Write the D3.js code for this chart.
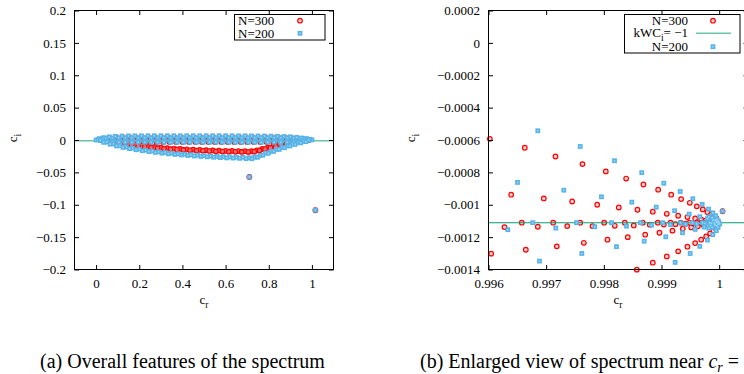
<!DOCTYPE html>
<html>
<head>
<meta charset="utf-8">
<script src="https://cdn.jsdelivr.net/npm/d3@7"></script>
<style>
  body { margin: 0; background: #fff; }
  svg { display: block; }
  text { font-family: "Liberation Serif", "Times New Roman", serif; fill: #000; }
</style>
</head>
<body>
<svg id="fig" width="744" height="374"></svg>
<script>
// ---------- Panel (a): full spectrum, eigenvalues [c_r, c_i] ----------
// N = 300 eigenvalues
const a300Lens1 = [[0.04,0.0018],[0.07,0.0024],[0.10,0.0028],[0.13,0.0028],[0.16,0.0028],[0.19,0.0028],[0.22,0.0028],[0.25,0.0028],[0.28,0.0028],[0.31,0.0028],[0.34,0.0028],[0.37,0.0028],[0.40,0.0028],[0.43,0.0028],[0.46,0.0028],[0.49,0.0028],[0.52,0.0028],[0.55,0.0028],[0.58,0.0028],[0.61,0.0028],[0.64,0.0028],[0.67,0.0028],[0.70,0.0028],[0.73,0.0028],[0.76,0.0028],[0.79,0.0028],[0.82,0.0028],[0.85,0.0028],[0.88,0.0028],[0.91,0.0024],[0.94,0.0018]];
const a300Lens2 = [[0.025,-0.0002],[0.055,-0.0002],[0.085,-0.0002],[0.115,-0.0002],[0.145,-0.0002],[0.175,-0.0002],[0.205,-0.0002],[0.235,-0.0002],[0.265,-0.0002],[0.295,-0.0002],[0.325,-0.0002],[0.355,-0.0002],[0.385,-0.0002],[0.415,-0.0002],[0.445,-0.0002],[0.475,-0.0002],[0.505,-0.0002],[0.535,-0.0002],[0.565,-0.0002],[0.595,-0.0002],[0.625,-0.0002],[0.655,-0.0002],[0.685,-0.0002],[0.715,-0.0002],[0.745,-0.0002],[0.775,-0.0002],[0.805,-0.0002],[0.835,-0.0002],[0.865,-0.0002],[0.895,-0.0002],[0.925,-0.0002],[0.955,-0.0002],[0.985,-0.0002]];
const a300Lens3 = [[0.07,-0.0032],[0.10,-0.0032],[0.13,-0.0032],[0.16,-0.0032],[0.19,-0.0032],[0.22,-0.0032],[0.25,-0.0032],[0.28,-0.0032],[0.31,-0.0032],[0.34,-0.0032],[0.37,-0.0032],[0.40,-0.0032],[0.43,-0.0032],[0.46,-0.0032],[0.49,-0.0032],[0.52,-0.0032],[0.55,-0.0032],[0.58,-0.0032],[0.61,-0.0032],[0.64,-0.0032],[0.67,-0.0032],[0.70,-0.0032],[0.73,-0.0032],[0.76,-0.0032],[0.79,-0.0032],[0.82,-0.0032],[0.85,-0.0032],[0.88,-0.0032],[0.91,-0.0032]];
const a300Lower1 = [[0.12,-0.0044],[0.15,-0.006],[0.18,-0.0074],[0.21,-0.0087],[0.24,-0.0098],[0.27,-0.0108],[0.30,-0.0117],[0.33,-0.0125],[0.36,-0.0132],[0.39,-0.0138],[0.42,-0.0144],[0.45,-0.0149],[0.48,-0.0153],[0.51,-0.0157],[0.54,-0.0161],[0.57,-0.0164],[0.60,-0.0167],[0.63,-0.0169],[0.66,-0.0171],[0.69,-0.0173],[0.72,-0.0174],[0.745,-0.016],[0.77,-0.0139],[0.795,-0.0118],[0.82,-0.0097],[0.845,-0.0077],[0.87,-0.0057],[0.895,-0.0038],[0.92,-0.0022]];
const a300Lower2 = [[0.135,-0.0064],[0.165,-0.0079],[0.195,-0.0093],[0.225,-0.0105],[0.255,-0.0115],[0.285,-0.0125],[0.315,-0.0133],[0.345,-0.0141],[0.375,-0.0147],[0.405,-0.0153],[0.435,-0.0159],[0.465,-0.0163],[0.495,-0.0167],[0.525,-0.0171],[0.555,-0.0175],[0.585,-0.0178],[0.615,-0.018],[0.645,-0.0182],[0.675,-0.0184],[0.705,-0.0186],[0.733,-0.018],[0.758,-0.0161],[0.783,-0.014],[0.808,-0.0119],[0.833,-0.0099],[0.858,-0.0079],[0.883,-0.006],[0.908,-0.0042]];
const a300Isolated = [[0.71,-0.0571],[1.016,-0.1085]];

// N = 200 eigenvalues
const a200Lens1 = [[0,0],[0.015,0.0021],[0.035,0.0037],[0.06,0.0049],[0.09,0.0057],[0.12,0.0061],[0.15,0.0063],[0.18,0.0064],[0.21,0.0064],[0.24,0.0065],[0.27,0.0065],[0.30,0.0065],[0.33,0.0065],[0.36,0.0065],[0.39,0.0065],[0.42,0.0065],[0.45,0.0065],[0.48,0.0065],[0.51,0.0065],[0.54,0.0065],[0.57,0.0065],[0.60,0.0065],[0.63,0.0065],[0.66,0.0064],[0.69,0.0064],[0.72,0.0063],[0.75,0.0062],[0.78,0.0061],[0.81,0.0059],[0.84,0.0057],[0.87,0.0054],[0.90,0.0049],[0.93,0.0041],[0.955,0.0031],[0.975,0.0021],[0.99,0.0011],[1.0,0.0002]];
const a200Lens2 = [[0.01,0.0006],[0.03,0.0018],[0.045,0.0024],[0.075,0.0028],[0.105,0.0029],[0.135,0.003],[0.165,0.003],[0.195,0.003],[0.225,0.003],[0.255,0.003],[0.285,0.003],[0.315,0.003],[0.345,0.003],[0.375,0.003],[0.405,0.003],[0.435,0.003],[0.465,0.003],[0.495,0.003],[0.525,0.003],[0.555,0.003],[0.585,0.003],[0.615,0.003],[0.645,0.003],[0.675,0.003],[0.705,0.003],[0.735,0.003],[0.765,0.003],[0.795,0.003],[0.825,0.003],[0.855,0.003],[0.885,0.003],[0.915,0.0028],[0.945,0.0024],[0.97,0.0016],[0.99,0.0006]];
const a200Lens3 = [[0.02,-0.0008],[0.05,-0.0012],[0.08,-0.0012],[0.11,-0.0012],[0.14,-0.0012],[0.17,-0.0012],[0.20,-0.0012],[0.23,-0.0012],[0.26,-0.0012],[0.29,-0.0012],[0.32,-0.0012],[0.35,-0.0012],[0.38,-0.0012],[0.41,-0.0012],[0.44,-0.0012],[0.47,-0.0012],[0.50,-0.0012],[0.53,-0.0012],[0.56,-0.0012],[0.59,-0.0012],[0.62,-0.0012],[0.65,-0.0012],[0.68,-0.0012],[0.71,-0.0012],[0.74,-0.0012],[0.77,-0.0012],[0.80,-0.0012],[0.83,-0.0012],[0.86,-0.0012],[0.89,-0.0012],[0.92,-0.0012],[0.95,-0.0012],[0.98,-0.0008]];
const a200Lens4 = [[0.045,-0.0024],[0.075,-0.0032],[0.105,-0.0035],[0.135,-0.0036],[0.165,-0.0036],[0.195,-0.0036],[0.225,-0.0036],[0.255,-0.0036],[0.285,-0.0036],[0.315,-0.0036],[0.345,-0.0036],[0.375,-0.0036],[0.405,-0.0036],[0.435,-0.0036],[0.465,-0.0036],[0.495,-0.0036],[0.525,-0.0036],[0.555,-0.0036],[0.585,-0.0036],[0.615,-0.0036],[0.645,-0.0036],[0.675,-0.0036],[0.705,-0.0036],[0.735,-0.0036],[0.765,-0.0036],[0.795,-0.0036],[0.825,-0.0036],[0.855,-0.0036],[0.885,-0.0036],[0.915,-0.0033],[0.945,-0.0027],[0.97,-0.0018]];
const a200Lower1 = [[0.02,-0.0007],[0.05,-0.0032],[0.08,-0.0061],[0.11,-0.0088],[0.14,-0.0108],[0.17,-0.0126],[0.20,-0.0142],[0.23,-0.0156],[0.26,-0.0169],[0.29,-0.0181],[0.32,-0.0192],[0.35,-0.0202],[0.38,-0.0211],[0.41,-0.0219],[0.44,-0.0227],[0.47,-0.0234],[0.50,-0.0241],[0.53,-0.0247],[0.56,-0.0253],[0.59,-0.0259],[0.62,-0.0262],[0.65,-0.0265],[0.68,-0.0268],[0.71,-0.0273],[0.735,-0.0265],[0.76,-0.0237],[0.785,-0.0203],[0.81,-0.0173],[0.835,-0.0144],[0.86,-0.0116],[0.885,-0.0089],[0.91,-0.0063],[0.935,-0.0039],[0.96,-0.0018],[0.985,-0.0001]];
const a200Lower2 = [[0.035,-0.0036],[0.065,-0.0064],[0.095,-0.0092],[0.125,-0.0114],[0.155,-0.0133],[0.185,-0.015],[0.215,-0.0165],[0.245,-0.0179],[0.275,-0.0191],[0.305,-0.0203],[0.335,-0.0213],[0.365,-0.0223],[0.395,-0.0231],[0.425,-0.0239],[0.455,-0.0247],[0.485,-0.0254],[0.515,-0.026],[0.545,-0.0266],[0.575,-0.0272],[0.605,-0.0276],[0.635,-0.0279],[0.665,-0.0283],[0.695,-0.0288],[0.722,-0.0289],[0.748,-0.0266],[0.773,-0.0234],[0.798,-0.0204],[0.823,-0.0175],[0.848,-0.0146],[0.873,-0.0119],[0.898,-0.0092],[0.923,-0.0067],[0.948,-0.0044],[0.972,-0.0025]];
const a200Isolated = [[0.71,-0.0571],[1.016,-0.1085]];

// ---------- Panel (b): close-up near c_r = 1 ----------
const b300 = [
  [0.996023,-0.000593],[0.996629,-0.000648],[0.997162,-0.000702],[0.99763,-0.000749],[0.998034,-0.000794],[0.998387,-0.000838],[0.998687,-0.000875],[0.998942,-0.000907],[0.999168,-0.000938],[0.999341,-0.000965],[0.999491,-0.000988],[0.999612,-0.00101],[0.999716,-0.001029],[0.999797,-0.001046],[0.999861,-0.00106],[0.99991,-0.001072],[0.99995,-0.001083],
  [0.996393,-0.000938],[0.996959,-0.000961],[0.997451,-0.00098],[0.997885,-0.001],[0.998259,-0.001017],[0.998583,-0.001031],[0.998849,-0.001043],[0.999091,-0.001056],[0.999289,-0.001068],[0.99945,-0.001076],[0.999584,-0.001085],[0.999688,-0.001091],[0.99977,-0.001096],[0.99984,-0.0011],
  [0.996577,-0.001111],[0.997122,-0.001111],[0.99759,-0.001111],[0.998006,-0.001111],[0.998363,-0.001111],[0.998675,-0.001111],[0.998935,-0.001111],[0.999156,-0.001111],[0.999334,-0.001111],[0.999485,-0.001111],[0.999606,-0.001111],[0.999716,-0.001111],[0.999797,-0.001111],[0.999867,-0.001111],[0.99992,-0.001111],[0.99996,-0.001111],
  [0.996277,-0.001138],[0.996855,-0.001136],[0.997365,-0.001132],[0.997803,-0.001132],[0.99819,-0.00113],[0.998519,-0.001128],[0.998797,-0.001123],[0.99904,-0.001122],[0.999243,-0.00112],[0.999417,-0.001117],[0.99956,-0.001115],[0.99968,-0.001114],[0.99978,-0.001113],
  [0.996047,-0.001302],[0.996647,-0.001278],[0.997184,-0.001257],[0.997653,-0.001235],[0.998063,-0.001216],[0.998415,-0.0012],[0.998717,-0.001185],[0.998965,-0.001173],[0.99919,-0.00116],[0.999369,-0.001148],[0.999515,-0.00114],[0.99963,-0.001133],[0.99973,-0.001127],[0.99981,-0.001122],
  [0.998572,-0.001401],[0.998849,-0.001358],[0.999091,-0.001319],[0.999289,-0.001288],[0.99945,-0.001259],[0.999584,-0.001237],[0.999688,-0.001216],[0.999775,-0.001196],[0.999844,-0.001177],[0.9999,-0.00116],[0.99994,-0.001145],[0.99997,-0.00113],
  [1.000059,-0.00104]
];
const b200 = [
  [0.996855,-0.000543],[0.99759,-0.00064],[0.998185,-0.000728],[0.998658,-0.000802],[0.99904,-0.000867],[0.999324,-0.000918],[0.999543,-0.000963],[0.999705,-0.000998],[0.999815,-0.001027],[0.99989,-0.00105],[0.99994,-0.001068],
  [0.996503,-0.000862],[0.997306,-0.00091],[0.997959,-0.000951],[0.998485,-0.000984],[0.998908,-0.001015],[0.999228,-0.001037],[0.99948,-0.001058],[0.999664,-0.001074],[0.999797,-0.001086],[0.99989,-0.001096],[0.99995,-0.001103],
  [0.996768,-0.001111],[0.997526,-0.001111],[0.998133,-0.001111],[0.998635,-0.001111],[0.999022,-0.001111],[0.999329,-0.001111],[0.999537,-0.001111],[0.999711,-0.001111],[0.999832,-0.001111],[0.99991,-0.001111],[0.99996,-0.001111],
  [0.996335,-0.001154],[0.997167,-0.001144],[0.997843,-0.001136],[0.998393,-0.001132],[0.998826,-0.001126],[0.999156,-0.001123],[0.999416,-0.00112],[0.99961,-0.001118],[0.99975,-0.001116],[0.99986,-0.001114],
  [0.996884,-0.001348],[0.997618,-0.001301],[0.998219,-0.001259],[0.9987,-0.001225],[0.999074,-0.001198],[0.999364,-0.001173],[0.999584,-0.001152],[0.99974,-0.001138],[0.99985,-0.001128],[0.99992,-0.00112],
  [0.999237,-0.001356],[0.999497,-0.001301],[0.999664,-0.001257],[0.999797,-0.001218],[0.999889,-0.001185],[0.99995,-0.00116],[0.99998,-0.00114],
  [0.99996,-0.00109],[0.99998,-0.0011],[0.99999,-0.00111],[0.99998,-0.00112],[0.99996,-0.00113],[0.99993,-0.001095],[0.99993,-0.001125],[0.99988,-0.00108],[0.99988,-0.00114],[0.99982,-0.001075],[0.99982,-0.001145],[0.99999,-0.001105],[1.00001,-0.001118],[1.000059,-0.00104]
];

// Reference level kW c_i = -1 (kW = 900)
const kwLevel = -1 / 900;

// Axis ticks
const aXTicks = [0, 0.2, 0.4, 0.6, 0.8, 1];
const aYTicks = [0.2, 0.15, 0.1, 0.05, 0, -0.05, -0.1, -0.15, -0.2];
const bXTicks = [0.996, 0.997, 0.998, 0.999, 1];
const bYTicks = [0.0002, 0, -0.0002, -0.0004, -0.0006, -0.0008, -0.001, -0.0012, -0.0014];

const RED = "#ff0000";
const BLUE = "#56b4e9", BLUE_IN = "#9fd4f3";
const GREEN = "#009e73";

const svg = d3.select("#fig");
svg.append("rect").attr("width", 744).attr("height", 374).attr("fill", "#fff");

function redMarks(g, pts, x, y, fill) {
  g.append("g").selectAll("circle").data(pts).join("circle")
    .attr("cx", d => x(d[0])).attr("cy", d => y(d[1])).attr("r", 2.3)
    .attr("fill", fill || "#ffd2d2").attr("stroke", RED).attr("stroke-width", 1.2);
}
function blueMarks(g, pts, x, y) {
  const s = 4.8;
  const gg = g.append("g");
  gg.selectAll("rect.o").data(pts).join("rect").attr("class", "o")
    .attr("x", d => x(d[0]) - s / 2).attr("y", d => y(d[1]) - s / 2)
    .attr("width", s).attr("height", s).attr("fill", BLUE);
  gg.selectAll("rect.i").data(pts).join("rect").attr("class", "i")
    .attr("x", d => x(d[0]) - 0.8).attr("y", d => y(d[1]) - 0.8)
    .attr("width", 1.6).attr("height", 1.6).attr("fill", BLUE_IN);
}

function subText(sel, main, sub, size) {
  sel.append("tspan").text(main);
  sel.append("tspan").text(sub).attr("font-size", size * 0.72).attr("dy", size * 0.3);
}

function drawPanel(p) {
  const g = svg.append("g");
  const x = d3.scaleLinear().domain(p.xDomain).range([p.left, p.right]);
  const y = d3.scaleLinear().domain(p.yDomain).range([p.bottom, p.top]);

  // eigenvalues for N=300 first, reference line, then N=200 on top
  p.red.forEach(s => redMarks(g, s, x, y, p.redFill));
  g.append("line").attr("x1", p.left).attr("x2", p.right)
    .attr("y1", y(kwLevel)).attr("y2", y(kwLevel))
    .attr("stroke", p.lineColor).attr("stroke-width", p.lineWidth);
  p.blue.forEach(s => blueMarks(g, s, x, y));

  // frame
  g.append("rect").attr("x", p.left).attr("y", p.top)
    .attr("width", p.right - p.left).attr("height", p.bottom - p.top)
    .attr("fill", "none").attr("stroke", "#000").attr("stroke-width", 1);

  const tk = 4.5;
  const style = a => {
    a.select(".domain").remove();
    a.selectAll(".tick line").attr("stroke", "#000");
    a.selectAll("text").attr("font-family", "Liberation Serif, serif").attr("font-size", 13).attr("fill", "#000");
    a.attr("font-family", null).attr("font-size", null);
  };
  g.append("g").attr("transform", `translate(0,${p.bottom})`)
    .call(d3.axisBottom(x).tickValues(p.xTicks).tickSize(-tk).tickPadding(9).tickFormat(p.xFmt)).call(style);
  g.append("g").attr("transform", `translate(0,${p.top})`)
    .call(d3.axisTop(x).tickValues(p.xTicks).tickSize(-tk).tickFormat("")).call(style);
  g.append("g").attr("transform", `translate(${p.left},0)`)
    .call(d3.axisLeft(y).tickValues(p.yTicks).tickSize(-tk).tickPadding(8.5).tickFormat(p.yFmt)).call(style);
  g.append("g").attr("transform", `translate(${p.right},0)`)
    .call(d3.axisRight(y).tickValues(p.yTicks).tickSize(-tk).tickFormat("")).call(style);

  // axis titles
  const yt = g.append("text").attr("transform", `translate(${p.yTitleX},${p.yTitleY}) rotate(-90)`)
    .attr("text-anchor", "middle").attr("font-size", 13);
  subText(yt, "c", "i", 13);
  const xt = g.append("text").attr("x", p.xTitleX).attr("y", p.xTitleY)
    .attr("text-anchor", "middle").attr("font-size", 13);
  subText(xt, "c", "r", 13);
  return { g, x, y };
}

// Panel (a)
drawPanel({
  left: 74.5, right: 333.5, top: 10.5, bottom: 269.5,
  xDomain: [-0.1, 1.1], yDomain: [-0.2, 0.2],
  xTicks: aXTicks, yTicks: aYTicks,
  xFmt: d3.format("~g"), yFmt: d3.format(".2~f"),
  red: [a300Lens1, a300Lens2, a300Lens3, a300Lower1, a300Lower2, a300Isolated],
  blue: [a200Lens1, a200Lens2, a200Lens3, a200Lens4, a200Lower1, a200Lower2, a200Isolated],
  redFill: "#ff6a6a",
  lineColor: "#6cc6a6", lineWidth: 1.4,
  yTitleX: 17, yTitleY: 138, xTitleX: 204, xTitleY: 304
});

// Panel (b)
drawPanel({
  left: 488.5, right: 748, top: 10.5, bottom: 269.5,
  xDomain: [0.996, 1.0005], yDomain: [-0.0014, 0.0002],
  xTicks: bXTicks, yTicks: bYTicks,
  xFmt: d3.format(".3~f"), yFmt: d3.format(".4~f"),
  red: [b300], blue: [b200],
  lineColor: GREEN, lineWidth: 1.2,
  yTitleX: 415, yTitleY: 138, xTitleX: 618, xTitleY: 304
});

// Legends
function legendBox(x0, y0, w, h) {
  svg.append("rect").attr("x", x0).attr("y", y0).attr("width", w).attr("height", h)
    .attr("fill", "#fff").attr("stroke", "#000").attr("stroke-width", 1);
}
legendBox(234.5, 14.5, 90.5, 25.5);
svg.append("text").attr("x", 238).attr("y", 25).attr("font-size", 13).text("N=300");
svg.append("text").attr("x", 238).attr("y", 37.5).attr("font-size", 13).text("N=200");
redMarks(svg, [[0, 0]], () => 300, () => 20.7);
blueMarks(svg, [[0, 0]], () => 300, () => 33.3);

legendBox(624.5, 14.5, 115.5, 38.5);
svg.append("text").attr("x", 688).attr("y", 25).attr("font-size", 13).attr("text-anchor", "end").text("N=300");
const kwText = svg.append("text").attr("x", 688).attr("y", 37.3).attr("font-size", 13).attr("text-anchor", "end");
kwText.append("tspan").text("kWC");
kwText.append("tspan").text("i").attr("font-size", 9.5).attr("dy", 3.5);
kwText.append("tspan").text("= \u22121").attr("dy", -3.5);
svg.append("text").attr("x", 688).attr("y", 50.7).attr("font-size", 13).attr("text-anchor", "end").text("N=200");
redMarks(svg, [[0, 0]], () => 713, () => 20.7);
svg.append("line").attr("x1", 696).attr("x2", 731).attr("y1", 33.3).attr("y2", 33.3)
  .attr("stroke", "#6cc6a6").attr("stroke-width", 1.6);
blueMarks(svg, [[0, 0]], () => 713, () => 46.7);

// Captions
svg.append("text").attr("x", 182.5).attr("y", 367.5).attr("font-size", 20)
  .attr("text-anchor", "middle").text("(a) Overall features of the spectrum");
const capB = svg.append("text").attr("x", 420).attr("y", 367.5).attr("font-size", 20);
capB.append("tspan").text("(b) Enlarged view of spectrum near ");
capB.append("tspan").text("c").attr("font-style", "italic");
capB.append("tspan").text("r").attr("font-style", "italic").attr("font-size", 14).attr("dy", 4);
capB.append("tspan").text(" = 1").attr("dy", -4);
</script>
</body>
</html>
